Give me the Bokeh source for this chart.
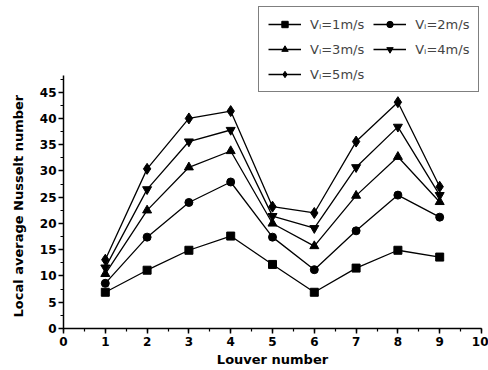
from bokeh.plotting import figure
from bokeh.models import Range1d, SingleIntervalTicker, Legend, LegendItem, Title
from bokeh.embed import file_html
from bokeh.resources import INLINE

louver = [1, 2, 3, 4, 5, 6, 7, 8, 9]
v1 = [6.9, 11.1, 14.9, 17.6, 12.2, 6.9, 11.5, 14.9, 13.6]
v2 = [8.6, 17.4, 24.0, 27.9, 17.4, 11.2, 18.6, 25.4, 21.2]
v3 = [10.4, 22.5, 30.7, 33.8, 20.0, 15.7, 25.3, 32.7, 24.1]
v4 = [11.6, 26.5, 35.6, 37.8, 21.4, 19.1, 30.7, 38.4, 25.4]
v5 = [13.1, 30.4, 40.0, 41.4, 23.2, 22.0, 35.6, 43.1, 27.0]
labels = ["V\u1d62=1m/s", "V\u1d62=2m/s", "V\u1d62=3m/s", "V\u1d62=4m/s", "V\u1d62=5m/s"]
y_axis_top = 48.2

p = figure(width=488, height=370, output_backend="svg", toolbar_location=None,
           x_range=Range1d(0, 10), y_range=Range1d(0, 62.46),
           min_border_left=63, min_border_right=7, min_border_top=0, min_border_bottom=42)
p.outline_line_color = None
p.xgrid.visible = False
p.ygrid.visible = False

items = []
series = [v1, v2, v3, v4, v5]
markers = [("square", 8), ("circle", 8), ("triangle", 9), ("inverted_triangle", 9), ("diamond", 11)]
for ys, (mk, sz), lab in zip(series, markers, labels):
    ln = p.line(louver, ys, line_color="black", line_width=1.3)
    sc = p.scatter(louver, ys, marker=mk, size=sz, fill_color="black", line_color="black")
    items.append(LegendItem(label=lab, renderers=[ln, sc]))

# legend fills column by column: reorder so rows read 1,2 / 3,4 / 5
ordered = [items[0], items[2], items[4], items[1], items[3]]
legend = Legend(items=ordered, ncols=2, location=(195, 236),
                border_line_color="black", border_line_width=1.5,
                label_text_font="DejaVu Sans", label_text_font_size="13px",
                glyph_width=33, glyph_height=16, label_standoff=9,
                spacing=9, padding=9, margin=0, label_height=16,
                background_fill_alpha=1)
p.add_layout(legend, "center")

for ax in (p.xaxis[0], p.yaxis[0]):
    ax.axis_line_color = "black"
    ax.axis_line_width = 1.5
    ax.major_tick_line_color = "black"
    ax.minor_tick_line_color = "black"
    ax.major_tick_line_width = 1.5
    ax.minor_tick_line_width = 1.2
    ax.major_tick_in = 0
    ax.major_tick_out = 5
    ax.minor_tick_in = 0
    ax.minor_tick_out = 3
    ax.major_label_text_font = "DejaVu Sans"
    ax.major_label_text_font_style = "bold"
    ax.major_label_text_font_size = "12px"
    ax.major_label_text_color = "black"
    ax.axis_label_text_font = "DejaVu Sans"
    ax.axis_label_text_font_style = "bold"
    ax.axis_label_text_font_size = "13px"
    ax.axis_label_text_color = "black"

p.yaxis[0].bounds = (0, y_axis_top)
p.xaxis[0].ticker = SingleIntervalTicker(interval=1, num_minor_ticks=2)
p.yaxis[0].ticker = SingleIntervalTicker(interval=5, num_minor_ticks=2)
p.xaxis.axis_label = "Louver number"
p.xaxis[0].axis_label_standoff = 3
p.xaxis[0].major_label_standoff = 3
p.yaxis[0].major_label_standoff = 2

ylab = Title(text="Local average Nusselt number", align="left", offset=11,
             vertical_align="middle", standoff=19,
             text_font="DejaVu Sans", text_font_style="bold", text_font_size="13px",
             text_color="black")
p.add_layout(ylab, "left")

open("out.html", "w").write(file_html(p, INLINE))
